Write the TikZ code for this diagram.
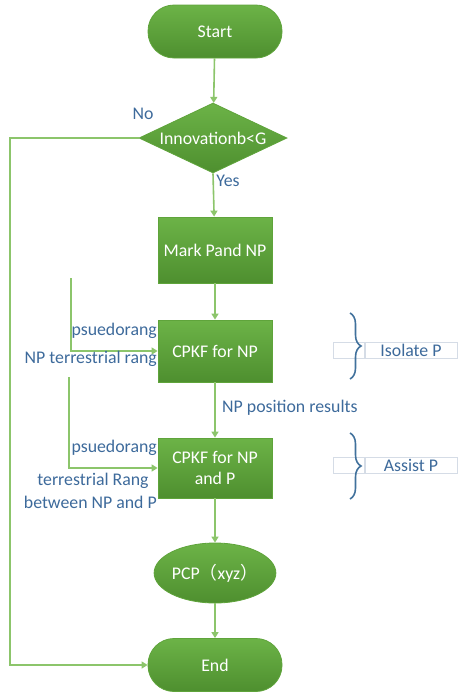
\documentclass[tikz,border=0pt]{standalone}
\usepackage{fontspec}
\setmainfont{Carlito}
\newfontfamily\cjkfont{Noto Sans CJK SC}
\usetikzlibrary{shapes.geometric,arrows.meta,decorations.pathreplacing}
\definecolor{boxgreen}{HTML}{5FA43B}
\definecolor{boxgreendark}{HTML}{4E8F2F}
\definecolor{boxgreenlight}{HTML}{6CB347}
\definecolor{linkgreen}{HTML}{8CC56B}
\definecolor{labelblue}{HTML}{3D6A9B}
\definecolor{bracecol}{HTML}{41719C}
\definecolor{tagedge}{HTML}{D5DCE6}
\tikzset{
  every node/.style={font=\fontsize{17.8}{20.5}\selectfont},
  flowshape/.style={top color=boxgreenlight, bottom color=boxgreendark, draw=boxgreen, line width=0.8pt, text=white, inner sep=0pt, align=center},
  terminal/.style={flowshape, rectangle, rounded corners=26pt, minimum width=134pt, minimum height=53pt},
  process/.style={flowshape, rectangle, minimum width=114pt},
  decision/.style={flowshape, diamond, aspect=2.1, minimum width=148pt, minimum height=70pt},
  result/.style={flowshape, ellipse, minimum width=104pt, minimum height=60pt},
  link/.style={draw=linkgreen, line width=1.6pt, -{Triangle[width=7pt,length=6pt]}},
  feed/.style={draw=linkgreen, line width=1.6pt, -{Triangle[width=7pt,length=6pt]}},
  note/.style={text=labelblue, inner sep=0pt},
  tagbox/.style={draw=tagedge, fill=white, line width=1pt, minimum height=16pt, inner sep=0pt},
  curly/.style={draw=bracecol, line width=1.6pt, decorate, decoration={brace, amplitude=11pt}}
}
\begin{document}
\begin{tikzpicture}[x=1pt,y=-1pt]
\useasboundingbox (0,0) rectangle (459,694);

% main flow
\node[terminal] (start) at (215,31.5) {Start};
\node[decision] (check) at (213,138) {Innovationb<G};
\node[process, minimum height=66pt] (mark) at (215,250) {Mark Pand NP};
\node[process, minimum height=62pt] (cpkfa) at (215,351) {CPKF for NP};
\node[process, minimum height=60pt] (cpkfb) at (215,468) {CPKF for NP\\and P};
\node[result] (pcp) at (215,573) {PCP{\cjkfont （}xyz{\cjkfont ）}};
\node[terminal] (end) at (215,665) {End};

\draw[link] (start) -- (check);
\draw[link] (check.south) -- (mark);
\draw[link] (mark) -- (cpkfa);
\draw[link] (cpkfa) -- (cpkfb);
\draw[link] (cpkfb) -- (pcp);
\draw[link] (pcp) -- (end);

\coordinate (loop) at (10,138);
\draw[link] (check.west) -- (loop) |- (end.west);

\node[note] (yes) at (228,181) {Yes};
\node[note] (no) at (143,114) {No};
\node[note, anchor=west] (npres) at (222,408) {NP position results};

% measurement inputs
\coordinate (feeda) at (71,278);
\coordinate (feedb) at (69,377);
\draw[feed] (feeda) |- (cpkfa.west);
\draw[feed] (feedb) |- (cpkfb.west);
\node[note, anchor=east] (pra) at (157,331) {psuedorang};
\node[note, anchor=east] (tra) at (157,359) {NP terrestrial rang};
\node[note, anchor=east] (prb) at (157,448) {psuedorang};
\node[note] (trb) at (93,481) {terrestrial Rang};
\node[note, anchor=east] (trc) at (157,502) {between NP and P};

% side annotations
\node[tagbox, minimum width=31pt] (tagaL) at (349,350) {};
\node[tagbox, minimum width=92pt, text=labelblue] (taga) at (411,350) {Isolate P};
\draw[curly] (350,313) -- (350,379);

\node[tagbox, minimum width=31pt] (tagbL) at (349,465) {};
\node[tagbox, minimum width=92pt, text=labelblue] (tagb) at (411,465) {Assist P};
\draw[curly] (350,433) -- (350,499);
\end{tikzpicture}
\end{document}
